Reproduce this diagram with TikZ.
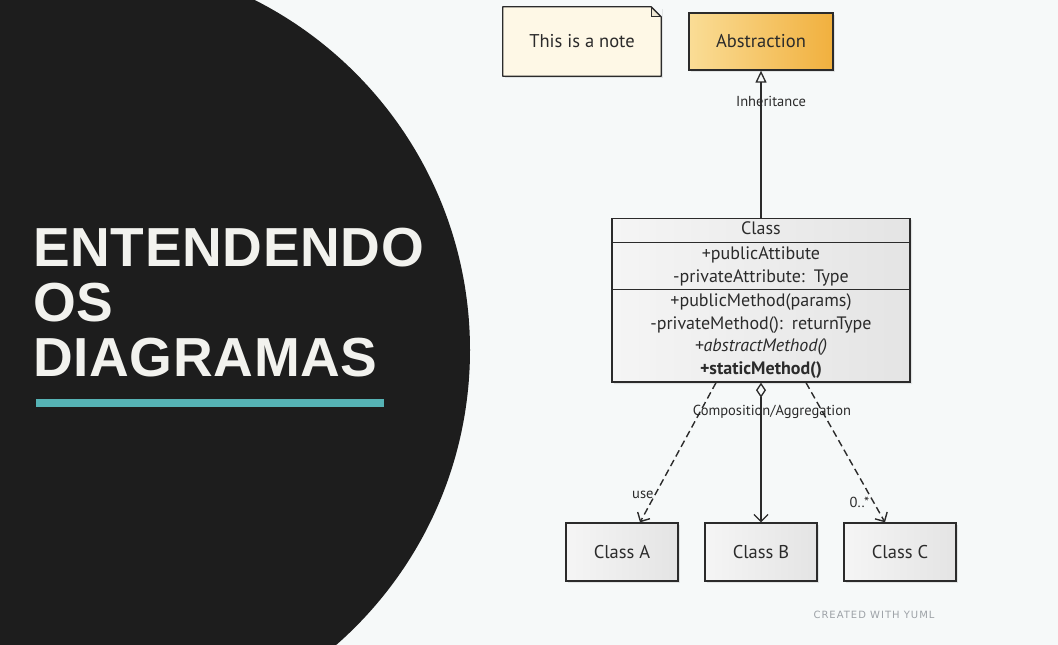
\documentclass[tikz,border=0pt]{standalone}
\usepackage{fontspec}
\setmainfont{Liberation Sans}[LetterSpace=1.2]
\newfontfamily\sketchfont{PT Sans}
\newfontfamily\creditfont[LetterSpace=10]{DejaVu Sans}
\usetikzlibrary{arrows.meta,positioning,shapes.multipart,shadows}
\definecolor{bgc}{HTML}{F6F9F9}
\definecolor{darkc}{HTML}{1D1D1D}
\definecolor{titlec}{HTML}{F2F2EE}
\definecolor{tealc}{HTML}{56B3B5}
\definecolor{ink}{HTML}{2B2B2B}
\definecolor{boxL}{HTML}{F5F5F5}
\definecolor{boxR}{HTML}{E4E4E4}
\definecolor{noteC}{HTML}{FEF8E6}
\definecolor{foldC}{HTML}{EFE8D4}
\definecolor{absL}{HTML}{FADD96}
\definecolor{absR}{HTML}{F1B03E}
\definecolor{creditc}{HTML}{9DA2A7}

\begin{document}
\begin{tikzpicture}[x=1pt, y=-1pt,
    every node/.style={font=\sketchfont\fontsize{18.5}{21}\selectfont, text=ink},
    shd/.style={drop shadow={opacity=0.18, shadow xshift=2pt, shadow yshift=-2pt}},
    cb/.style={rectangle, draw=ink, line width=1.3pt, minimum width=112pt,
               minimum height=58pt, left color=boxL, right color=boxR, shd},
    nt/.style={rectangle, fill=noteC, minimum width=158pt, minimum height=69pt, shd},
    ab/.style={rectangle, draw=ink, line width=1.3pt, minimum width=144pt,
               minimum height=57pt, left color=absL, right color=absR, shd},
    uml/.style={rectangle split, rectangle split parts=3, draw=ink, line width=1.3pt,
                text width=290pt, align=center, inner xsep=4pt, inner ysep=0.3pt,
                left color=boxL, right color=boxR, shd,
                font=\sketchfont\fontsize{18}{22.6}\selectfont},
    inh/.style={draw=ink, line width=1.3pt, -{Triangle[open, length=12pt, width=11pt]}},
    dep/.style={draw=ink, line width=1.4pt, dash pattern=on 7pt off 4pt,
                -{Straight Barb[length=7pt, width=14pt]}},
    agg/.style={draw=ink, line width=1.3pt,
                {Diamond[open, length=15pt, width=10pt]}-{Straight Barb[length=7pt, width=14pt]}},
    lbl/.style={font=\sketchfont\fontsize{14.5}{16}\selectfont, inner sep=1pt},
    ttl/.style={font=\fontsize{55}{55}\selectfont\bfseries, text=titlec, anchor=base west, inner sep=0pt},
  ]
  \useasboundingbox (0,0) rectangle (1058,645);
  \clip (0,0) rectangle (1058,645);
  \fill[bgc] (0,0) rectangle (1058,645);
  \fill[darkc] (78,350) circle (392pt);

  \node[ttl] (t1) at (33,266) {ENTENDENDO};
  \node[ttl] (t2) at (33,321) {OS};
  \node[ttl] (t3) at (33,376) {DIAGRAMAS};
  \fill[tealc] (36,399) rectangle (384,407);

  \node[nt] (note) at (582,41.5) {This is a note};
  \fill[bgc] ([xshift=-11pt]note.north east) -- ([xshift=1pt]note.north east)
    -- ([xshift=1pt, yshift=-11pt]note.north east) -- cycle;
  \fill[foldC] ([xshift=-10pt]note.north east) -- ([xshift=-10pt, yshift=-10pt]note.north east)
    -- ([yshift=-10pt]note.north east) -- cycle;
  \draw[ink, line width=1.3pt, line join=round] (note.north west) -- ([xshift=-10pt]note.north east)
    -- ([yshift=-10pt]note.north east) -- (note.south east) -- (note.south west) -- cycle;
  \draw[ink, line width=0.8pt] ([xshift=-10pt]note.north east) -- ([xshift=-10pt, yshift=-10pt]note.north east)
    -- ([yshift=-10pt]note.north east);

  \node[ab] (abs) at (761,41.5) {Abstraction};

  \node[uml, anchor=north] (cls) at (761,217.5) {\strut Class
    \nodepart{second}\strut +publicAttibute\\\strut -privateAttribute: Type
    \nodepart{third}\strut +publicMethod(params)\\\strut -privateMethod(): returnType\\
    \strut{\itshape +abstractMethod()}\\\strut{\bfseries +staticMethod()}};

  \node[cb] (clsA) at (622,552) {Class A};
  \node[cb] (clsB) at (761,552) {Class B};
  \node[cb] (clsC) at (900,552) {Class C};

  \draw[inh] (cls.north) -- node[lbl, pos=0.79, xshift=10pt] {Inheritance} (abs.south);
  \draw[agg] (cls.south) -- node[lbl, pos=0.21, xshift=11pt] {Composition/Aggregation} (clsB.north);
  \draw[dep] ([xshift=-45pt]cls.south) -- node[lbl, pos=0.8, left] {use} ([xshift=18pt]clsA.north);
  \draw[dep] ([xshift=45pt]cls.south) -- node[lbl, pos=0.86, left, xshift=-3pt] {0..*} ([xshift=-15pt]clsC.north);

  \node[font=\creditfont\fontsize{10}{12}\selectfont, text=creditc] (credit) at (874,615) {CREATED WITH YUML};
\end{tikzpicture}
\end{document}
